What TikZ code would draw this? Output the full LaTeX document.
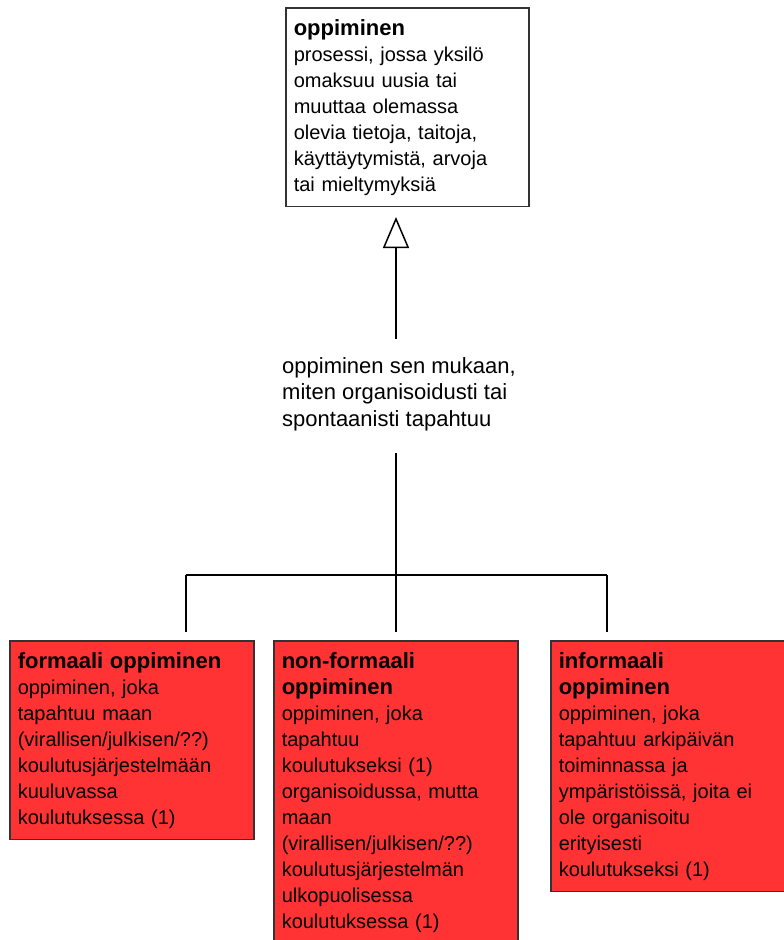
\documentclass[tikz,border=0pt]{standalone}
\usepackage{fontspec}
\setmainfont{Liberation Sans}
\usetikzlibrary{arrows.meta,positioning}
\definecolor{punainen}{RGB}{255,51,51}
\definecolor{reuna}{RGB}{51,51,51}
\newcommand{\otsikko}[1]{{\fontsize{22}{26}\selectfont\bfseries #1}}

\begin{document}
\begin{tikzpicture}[x=1pt,y=-1pt,
  teksti/.style={font=\fontsize{20}{26}\selectfont,align=left},
  laatikko/.style={teksti,draw=reuna,line width=1.5pt,anchor=north west,
    inner xsep=8pt,inner ysep=13pt,text height=15pt},
  luokka/.style={laatikko,fill=punainen},
  yhteys/.style={line width=1.5pt,black}]
  \useasboundingbox (0,0) rectangle (784,940);

  % yleiskasite
  \node[laatikko,text width=227pt,text depth=157.5pt] (oppiminen) at (285,7)
    {\otsikko{oppiminen}\\prosessi, jossa yksilö\\omaksuu uusia tai\\muuttaa olemassa\\
     olevia tietoja, taitoja,\\käyttäytymistä, arvoja\\tai mieltymyksiä};

  % jakoperuste
  \node[font=\fontsize{22}{26.5}\selectfont,align=left,anchor=north west,inner sep=0pt]
    (peruste) at (282,357)
    {oppiminen sen mukaan,\\miten organisoidusti tai\\spontaanisti tapahtuu};

  % alakasitteet
  \node[luokka,text width=228pt,text depth=157.5pt] (formaali) at (9,640)
    {\otsikko{formaali oppiminen}\\oppiminen, joka\\tapahtuu maan\\(virallisen/julkisen/??)\\
     koulutusjärjestelmään\\kuuluvassa\\koulutuksessa (1)};
  \node[luokka,text width=228pt,text depth=261.5pt] (nonformaali) at (273,640)
    {\otsikko{non-formaali}\\\otsikko{oppiminen}\\oppiminen, joka\\tapahtuu\\koulutukseksi (1)\\
     organisoidussa, mutta\\maan\\(virallisen/julkisen/??)\\koulutusjärjestelmän\\
     ulkopuolisessa\\koulutuksessa (1)};
  \node[luokka,text width=218pt,text depth=209.5pt] (informaali) at (550,640)
    {\otsikko{informaali}\\\otsikko{oppiminen}\\oppiminen, joka\\tapahtuu arkipäivän\\
     toiminnassa ja\\ympäristöissä, joita ei\\ole organisoitu\\erityisesti\\koulutukseksi (1)};

  % haarautumiskohdat
  \coordinate (haara) at (396,575);
  \coordinate (vasen) at (186,575);
  \coordinate (oikea) at (607,575);

  % yhteydet
  \draw[yhteys,shorten <=18pt,shorten >=10pt,-{Triangle[open,length=31pt,width=26pt]}]
    (peruste.north -| haara) -- (oppiminen.south -| haara);
  \draw[yhteys,shorten <=22pt] (peruste.south -| haara) -- (haara);
  \draw[yhteys] (vasen) -- (oikea);
  \draw[yhteys,shorten >=8pt] (vasen) -- (vasen |- formaali.north);
  \draw[yhteys,shorten >=8pt] (haara) -- (haara |- nonformaali.north);
  \draw[yhteys,shorten >=8pt] (oikea) -- (oikea |- informaali.north);
\end{tikzpicture}
\end{document}
